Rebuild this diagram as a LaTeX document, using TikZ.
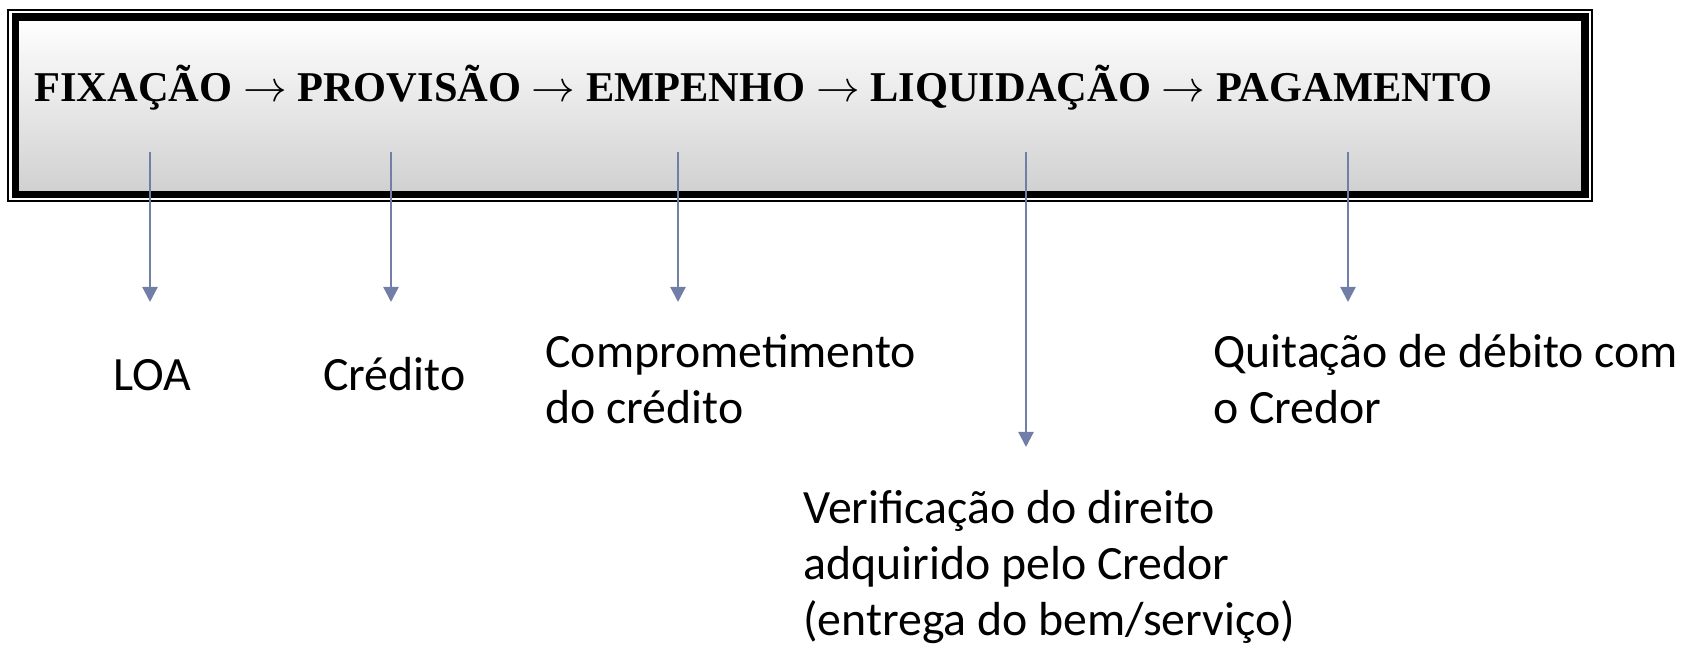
\documentclass[tikz,border=0pt]{standalone}
\usepackage{fontspec}
\setmainfont{Liberation Serif}
\newfontfamily\labelfont{Carlito}
\usepackage{tikz}
\usetikzlibrary{arrows.meta, positioning, calc}
\definecolor{boxgray}{RGB}{208,208,208}
\definecolor{linkblue}{RGB}{112,126,168}
\tikzset{
    frame/.style={
        rectangle, draw=black, line width=0.9pt,
        minimum width=31.68cm, minimum height=3.82cm,
        inner sep=0pt
    },
    stagebox/.style={
        rectangle, draw=black, line width=4pt,
        top color=white, bottom color=boxgray,
        minimum width=31.39cm, minimum height=3.55cm,
        inner sep=0pt
    },
    flowtitle/.style={
        anchor=base west, inner sep=0pt,
        font=\fontsize{24.15}{29}\selectfont\bfseries
    },
    note/.style={
        anchor=base west, inner sep=0pt, align=left,
        font=\labelfont\fontsize{27.2}{32}\selectfont
    },
    link/.style={draw=linkblue, line width=1.3pt,
        -{Triangle[length=0.3cm, width=0.3cm]}}
}
\begin{document}
\begin{tikzpicture}
\useasboundingbox (0,0) rectangle (33.7,12.9);

% Stage box
\node[frame] (outer) at (16.0,10.79) {};
\node[stagebox] (stage) at (16.005,10.785) {};
\node[flowtitle] (flow) at (0.68,10.86)
    {FIXAÇÃO $\rightarrow$ PROVISÃO $\rightarrow$ EMPENHO $\rightarrow$ LIQUIDAÇÃO $\rightarrow$ PAGAMENTO};

% Arrow ends
\coordinate (fixtop) at (3.00,9.86);
\coordinate (fixtip) at (3.00,6.86);
\coordinate (provtop) at (7.82,9.86);
\coordinate (provtip) at (7.82,6.86);
\coordinate (emptop) at (13.56,9.86);
\coordinate (emptip) at (13.56,6.86);
\coordinate (liqtop) at (20.52,9.86);
\coordinate (liqtip) at (20.52,3.96);
\coordinate (pagtop) at (26.96,9.86);
\coordinate (pagtip) at (26.96,6.86);

% Meanings (base = last line)
\node[note] (loa) at (2.26,5.08) {LOA};
\node[note] (credito) at (6.46,5.08) {Crédito};
\node[note] (compromisso) at (10.90,4.42) {Comprometimento\\do crédito};
\node[note] (verificacao) at (16.06,0.18) {Verificação do direito\\adquirido pelo Credor\\(entrega do bem/serviço)};
\node[note] (quitacao) at (24.26,4.42) {Quitação de débito com\\o Credor};

% Connections
\draw[link] (fixtop) -- (fixtip);
\draw[link] (provtop) -- (provtip);
\draw[link] (emptop) -- (emptip);
\draw[link] (liqtop) -- (liqtip);
\draw[link] (pagtop) -- (pagtip);

\end{tikzpicture}
\end{document}
